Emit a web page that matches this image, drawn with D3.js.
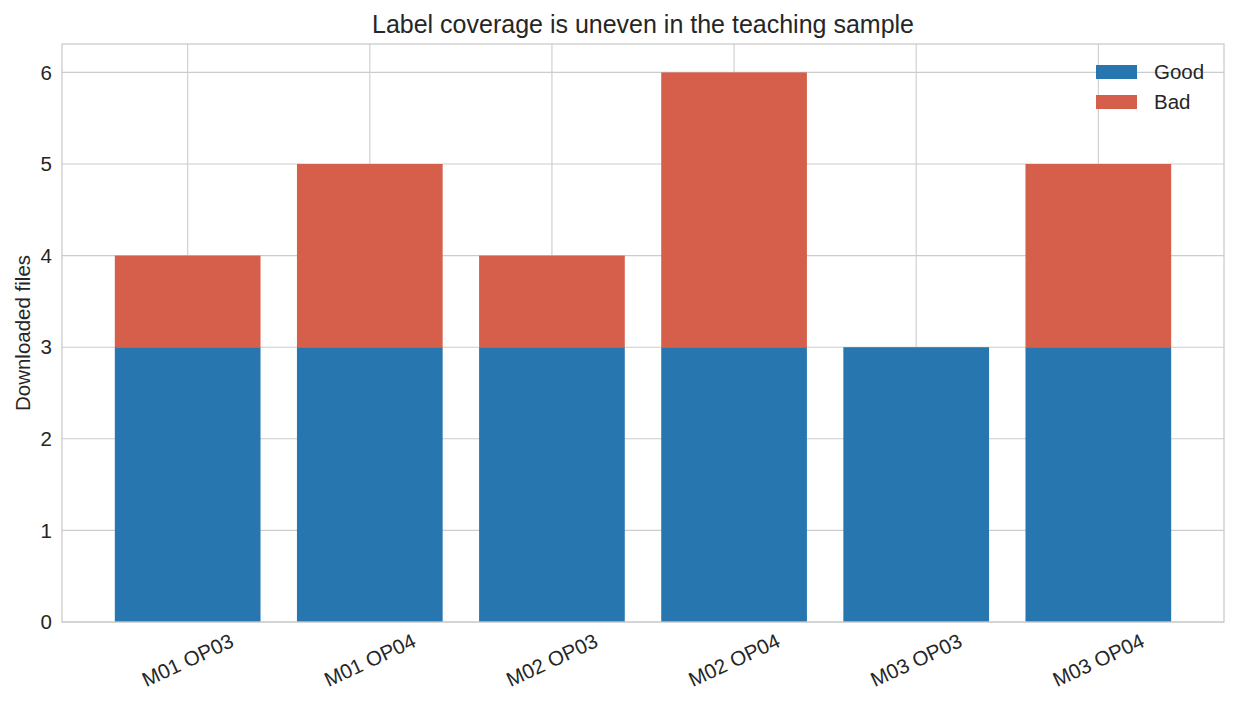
<!DOCTYPE html>
<html><head><meta charset="utf-8">
<script src="https://cdn.jsdelivr.net/npm/d3@7"></script>
<style>body{margin:0;background:#fff;} svg{display:block;font-family:"Liberation Sans",Arial,sans-serif;}</style>
</head><body><svg id="c" width="1239" height="706"></svg>
<script>
const categories = ["M01 OP03","M01 OP04","M02 OP03","M02 OP04","M03 OP03","M03 OP04"];
const goodValues = [3,3,3,3,3,3];
const badValues = [1,2,1,3,0,2];
const yTicks = [0,1,2,3,4,5,6];
const seriesNames = ["Good","Bad"];
const colors = ["#2876b0","#d65f4b"];

const svg = d3.select("#c");
const L=62,R=1224,T=44,B=622;
const x = d3.scaleLinear().domain([-0.69,5.69]).range([L,R]);
const y = d3.scaleLinear().domain([0,6.31]).range([B,T]);
const bw = x(0.8)-x(0);
const grid="#cccccc", text="#262626";
const fs = 20.5;

// grid
svg.append("g").selectAll("line").data(yTicks).join("line")
  .attr("x1",L).attr("x2",R).attr("y1",d=>y(d)).attr("y2",d=>y(d))
  .attr("stroke",grid).attr("stroke-width",1.1);
svg.append("g").selectAll("line").data(categories).join("line")
  .attr("x1",(d,i)=>x(i)).attr("x2",(d,i)=>x(i)).attr("y1",T).attr("y2",B)
  .attr("stroke",grid).attr("stroke-width",1.1);

// bars
const stacked = categories.map((c,i)=>({c,i,good:goodValues[i],bad:badValues[i]}));
svg.append("g").selectAll("rect").data(stacked).join("rect")
  .attr("x",d=>x(d.i-0.4)).attr("width",bw)
  .attr("y",d=>y(d.good)).attr("height",d=>y(0)-y(d.good)).attr("fill",colors[0]);
svg.append("g").selectAll("rect").data(stacked.filter(d=>d.bad>0)).join("rect")
  .attr("x",d=>x(d.i-0.4)).attr("width",bw)
  .attr("y",d=>y(d.good+d.bad)).attr("height",d=>y(d.good)-y(d.good+d.bad)).attr("fill",colors[1]);

// frame
svg.append("rect").attr("x",L).attr("y",T).attr("width",R-L).attr("height",B-T)
  .attr("fill","none").attr("stroke",grid).attr("stroke-width",1.3);

// y ticks
svg.append("g").selectAll("text").data(yTicks).join("text")
  .attr("x",L-10).attr("y",d=>y(d)).attr("dy","0.35em").attr("text-anchor","end")
  .attr("font-size",fs).attr("fill",text).text(d=>d);

// x ticks rotated 25
svg.append("g").selectAll("text").data(categories).join("text")
  .attr("transform",(d,i)=>`translate(${x(i)},${B+38}) rotate(-25)`)
  .attr("text-anchor","middle").attr("dy","0.35em")
  .attr("font-size",fs).attr("fill",text).text(d=>d);

// y label
svg.append("text").attr("transform",`translate(29.5,${(T+B)/2}) rotate(-90)`)
  .attr("text-anchor","middle").attr("font-size",fs).attr("fill",text).text("Downloaded files");

// title
svg.append("text").attr("x",(L+R)/2).attr("y",33).attr("text-anchor","middle")
  .attr("font-size",25).attr("fill",text).text("Label coverage is uneven in the teaching sample");

// legend
const lg = svg.append("g");
seriesNames.forEach((n,i)=>{
  lg.append("rect").attr("x",1096).attr("y",65+i*30).attr("width",41).attr("height",14).attr("fill",colors[i]);
  lg.append("text").attr("x",1154).attr("y",72+i*30).attr("dy","0.35em").attr("font-size",fs).attr("fill",text).text(n);
});
</script></body></html>
